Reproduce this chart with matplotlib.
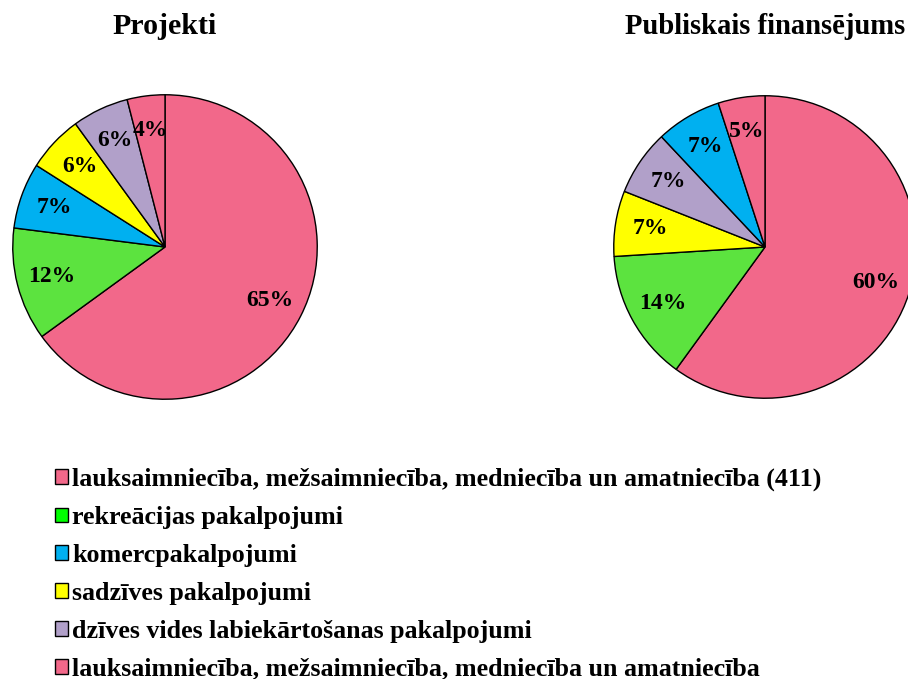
import matplotlib.pyplot as plt
from matplotlib.patches import Patch

plt.rcParams['font.family'] = ['Liberation Serif', 'DejaVu Serif']
plt.rcParams['font.weight'] = 'bold'

# data
projekti = [65, 12, 7, 6, 6, 4]
projekti_colors = ['#F2688A', '#5CE33F', '#00B0F0', '#FFFF00', '#B1A0C9', '#F2688A']

finans = [60, 14, 7, 7, 7, 5]
finans_colors = ['#F2688A', '#5CE33F', '#FFFF00', '#B1A0C9', '#00B0F0', '#F2688A']

legend_labels = [
    'lauksaimniecība, mežsaimniecība, medniecība un amatniecība (411)',
    'rekreācijas pakalpojumi',
    'komercpakalpojumi',
    'sadzīves pakalpojumi',
    'dzīves vides labiekārtošanas pakalpojumi',
    'lauksaimniecība, mežsaimniecība, medniecība un amatniecība',
]
legend_colors = ['#F2688A', '#00FF00', '#00B0F0', '#FFFF00', '#B1A0C9', '#F2688A']

W, H = 908, 679
fig = plt.figure(figsize=(W / 100, H / 100), dpi=100)


def pie_axes(cx, cy, r):
    return fig.add_axes([(cx - r) / W, (H - cy - r) / H, 2 * r / W, 2 * r / H])


def draw_pie(ax, vals, colors):
    ax.pie(vals, colors=colors, startangle=90, counterclock=False,
           autopct='%d%%', pctdistance=0.77,
           wedgeprops=dict(edgecolor='black', linewidth=1),
           textprops=dict(fontsize=17, fontweight='bold'))
    ax.set_xlim(-1.005, 1.005)
    ax.set_ylim(-1.005, 1.005)
    ax.set_aspect('equal')


ax1 = pie_axes(165, 247, 153)
draw_pie(ax1, projekti, projekti_colors)
ax2 = pie_axes(765, 247, 152)
draw_pie(ax2, finans, finans_colors)

fig.text(165 / W, 1 - 26 / H, 'Projekti', ha='center', va='center', fontsize=21.5, fontweight='bold')
fig.text(765 / W, 1 - 26 / H, 'Publiskais finansējums', ha='center', va='center', fontsize=20.6, fontweight='bold')

handles = [Patch(facecolor=c, edgecolor='black', linewidth=1) for c in legend_colors]
fig.legend(handles, legend_labels, loc='upper left', bbox_to_anchor=(42 / W, 1 - 455 / H),
           frameon=False, handlelength=0.5, handleheight=0.5,
           handletextpad=0.15, labelspacing=0.57, borderpad=0,
           prop=dict(size=18.7, weight='bold'))

fig.savefig('out.png', dpi=100)
